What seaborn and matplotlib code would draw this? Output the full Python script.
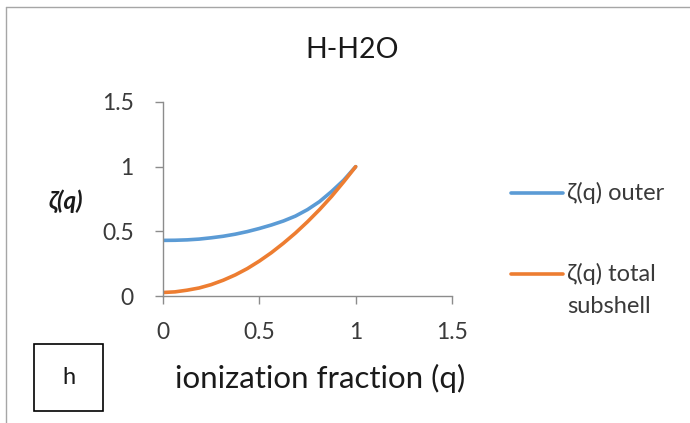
import numpy as np
import pandas as pd
import matplotlib
matplotlib.use("Agg")
import matplotlib.pyplot as plt
import seaborn as sns
from matplotlib.lines import Line2D
from matplotlib.patches import Rectangle

q_values = [0.0, 0.0625, 0.125, 0.1875, 0.25, 0.3125, 0.375, 0.4375, 0.5,
            0.5625, 0.625, 0.6875, 0.75, 0.8125, 0.875, 0.9375, 1.0]
zeta_outer = [0.430, 0.431, 0.434, 0.440, 0.450, 0.462, 0.478, 0.498, 0.522,
              0.549, 0.580, 0.618, 0.668, 0.730, 0.808, 0.895, 1.0]
zeta_total = [0.027, 0.032, 0.045, 0.062, 0.088, 0.122, 0.163, 0.212, 0.270,
              0.335, 0.408, 0.487, 0.574, 0.668, 0.770, 0.882, 1.0]
series_names = ["ζ(q) outer", "ζ(q) total\nsubshell"]
x_ticks = [0, 0.5, 1, 1.5]
y_ticks = [0, 0.5, 1, 1.5]
x_tick_labels = ["0", "0.5", "1", "1.5"]
y_tick_labels = ["0", "0.5", "1", "1.5"]
colors = ["#5B9BD5", "#ED7D31"]

df = pd.DataFrame({
    "q": q_values * 2,
    "zeta": zeta_outer + zeta_total,
    "series": [series_names[0]] * len(q_values) + [series_names[1]] * len(q_values),
})

sns.set_style("white")
plt.rcParams['font.family'] = ['Lato', 'DejaVu Sans']
text_col = "#3A3A3A"
dark = "#1A1A1A"
axis_col = "#8C8C8C"

W, H = 690, 423
def fx(px):
    return px / W
def fy(py):
    return 1 - py / H

fig = plt.figure(figsize=(6.9, 4.23), dpi=100)
ax = fig.add_axes([fx(163), fy(296), fx(452) - fx(163), fy(102) - fy(296)])

sns.lineplot(data=df, x="q", y="zeta", hue="series", palette=colors,
             linewidth=2.6, ax=ax, legend=False, solid_capstyle="round",
             solid_joinstyle="round")

ax.set_xlim(0, 1.5)
ax.set_ylim(0, 1.5)
ax.set_xticks(x_ticks)
ax.set_xticklabels(x_tick_labels)
ax.set_yticks(y_ticks)
ax.set_yticklabels(y_tick_labels)
ax.tick_params(axis="both", which="major", direction="out", length=6, width=1,
               color=axis_col, labelsize=16.5, labelcolor=text_col,
               bottom=True, left=True)
ax.tick_params(axis="x", pad=13)
ax.tick_params(axis="y", pad=15)
for s in ["top", "right"]:
    ax.spines[s].set_visible(False)
for s in ["left", "bottom"]:
    ax.spines[s].set_color(axis_col)
    ax.spines[s].set_linewidth(1)
ax.set_xlabel("")
ax.set_ylabel("")

fig.text(fx(320), fy(378), "ionization fraction (q)", fontsize=22.5, color=dark,
         ha="center", va="center")
fig.text(fx(66), fy(201), "ζ(q)", fontsize=17.5, fontweight="bold", fontstyle="italic",
         color=dark, ha="center", va="center")
fig.text(fx(352), fy(50), "H-H2O", fontsize=20.5, color=dark, ha="center", va="center")

# legend
legend_y = [193, 274]
for c, yy, name in zip(colors, legend_y, series_names):
    fig.add_artist(Line2D([fx(511), fx(563)], [fy(yy), fy(yy)], transform=fig.transFigure,
                          color=c, lw=2.6, solid_capstyle="round"))
    fig.text(fx(567), fy(yy), name.split("\n")[0], fontsize=17, color=text_col,
             ha="left", va="center")
    if "\n" in name:
        fig.text(fx(567), fy(yy + 32), name.split("\n")[1], fontsize=17, color=text_col,
                 ha="left", va="center")

# outer chart frame (top and left edges)
fig.add_artist(Line2D([fx(6), fx(6)], [0.0, fy(7)], transform=fig.transFigure,
                      color="#A6A6A6", lw=1))
fig.add_artist(Line2D([fx(6), 1.0], [fy(7), fy(7)], transform=fig.transFigure,
                      color="#A6A6A6", lw=1))

# panel label box
fig.add_artist(Rectangle((fx(34), fy(411)), fx(103) - fx(34), fy(344) - fy(411),
                         transform=fig.transFigure, fill=False, edgecolor="black", lw=1.2))
fig.text(fx(68.5), fy(377), "h", ha="center", va="center", fontsize=17, color=dark)

fig.savefig("out.png", dpi=100)
